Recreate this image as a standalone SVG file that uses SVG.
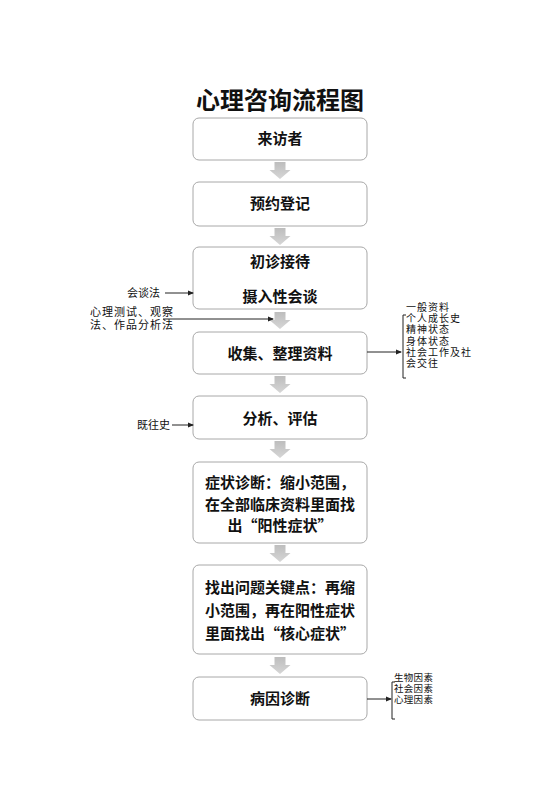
<svg xmlns="http://www.w3.org/2000/svg" width="560" height="792" viewBox="0 0 560 792">
<style>
.box{fill:#fff;stroke:#a8a8a8;stroke-width:1}
.bt{font-family:"Noto Sans CJK SC","Noto Sans",sans-serif;font-size:15px;font-weight:bold;fill:#111;text-anchor:middle}
.st{font-family:"Noto Sans CJK SC","Noto Sans",sans-serif;font-size:11px;fill:#111}
.lt{font-family:"Liberation Sans","Noto Sans CJK SC",sans-serif;fill:#111}
.ln{stroke:#222;stroke-width:1;fill:none}
.garrow{fill:url(#gg)}
</style>
<defs>
<linearGradient id="gg" x1="0" y1="0" x2="0" y2="1">
<stop offset="0" stop-color="#bdbdbd"/>
<stop offset="1" stop-color="#d6d6d6"/>
</linearGradient>
<marker id="ah" markerWidth="6" markerHeight="6" refX="5" refY="3" orient="auto" markerUnits="userSpaceOnUse">
<path d="M0,0.5 L6,3 L0,5.5 Z" fill="#222"/>
</marker>
<path id="ga" d="M-5.5,0 H5.5 V8 H10.5 L0,17 L-10.5,8 H-5.5 Z"/>
</defs>
<rect width="560" height="792" fill="#fff"/>
<text x="280" y="109" style="font-family:'Noto Sans CJK SC','Noto Sans',sans-serif;font-size:24px;font-weight:bold;fill:#111;text-anchor:middle">心理咨询流程图</text>

<g id="n1"><rect class="box" x="193" y="118" width="174" height="42" rx="6"/><text class="bt" x="280" y="144">来访者</text></g>
<g id="n2"><rect class="box" x="193" y="182" width="174" height="44" rx="6"/><text class="bt" x="280" y="209">预约登记</text></g>
<g id="n3"><rect class="box" x="193" y="247" width="174" height="62" rx="6"/><text class="bt" x="280" y="267">初诊接待</text><text class="bt" x="280" y="302">摄入性会谈</text></g>
<g id="n4"><rect class="box" x="193" y="332" width="174" height="42" rx="6"/><text class="bt" x="280" y="359">收集、整理资料</text></g>
<g id="n5"><rect class="box" x="193" y="396" width="174" height="43" rx="6"/><text class="bt" x="280" y="424">分析、评估</text></g>
<g id="n6"><rect class="box" x="193" y="462" width="174" height="81" rx="6"/><text class="bt" x="280" y="488"><tspan x="280" y="488">症状诊断：缩小范围，</tspan><tspan x="280" y="509.5">在全部临床资料里面找</tspan><tspan x="280" y="531">出“阳性症状”</tspan></text></g>
<g id="n7"><rect class="box" x="193" y="565" width="174" height="89" rx="6"/><text class="bt" x="280" y="593"><tspan x="280" y="593">找出问题关键点：再缩</tspan><tspan x="280" y="616">小范围，再在阳性症状</tspan><tspan x="280" y="639">里面找出“核心症状”</tspan></text></g>
<g id="n8"><rect class="box" x="193" y="677" width="174" height="43" rx="6"/><text class="bt" x="280" y="704">病因诊断</text></g>

<g id="l1"><text class="st" x="127" y="297">会谈法</text></g>
<g id="l2"><text class="lt" x="90" y="316" style="font-size:11px;letter-spacing:1px"><tspan x="90" y="316">心理测试、观察</tspan><tspan x="90" y="328.5">法、作品分析法</tspan></text></g>
<g id="l3"><text class="st" x="137" y="429">既往史</text></g>
<g id="l4"><text class="lt" x="406" y="311" style="font-size:10px;letter-spacing:1px"><tspan x="406" y="311">一般资料</tspan><tspan x="406" y="322.2">个人成长史</tspan><tspan x="406" y="333.4">精神状态</tspan><tspan x="406" y="344.6">身体状态</tspan><tspan x="406" y="355.8">社会工作及社</tspan><tspan x="406" y="367">会交往</tspan></text></g>
<g id="l5"><text class="lt" x="394" y="681" style="font-size:9.5px;letter-spacing:0.3px"><tspan x="394" y="681">生物因素</tspan><tspan x="394" y="692">社会因素</tspan><tspan x="394" y="703">心理因素</tspan></text></g>

<g id="connectors">
<use href="#ga" class="garrow" x="280" y="162"/>
<use href="#ga" class="garrow" x="280" y="228"/>
<use href="#ga" class="garrow" x="280" y="312"/>
<use href="#ga" class="garrow" x="280" y="376"/>
<use href="#ga" class="garrow" x="280" y="441"/>
<use href="#ga" class="garrow" x="280" y="545"/>
<use href="#ga" class="garrow" x="280" y="657"/>
<line class="ln" x1="165" y1="293" x2="193" y2="293" marker-end="url(#ah)"/>
<line class="ln" x1="163" y1="319" x2="273" y2="319" marker-end="url(#ah)"/>
<line class="ln" x1="172" y1="425" x2="193" y2="425" marker-end="url(#ah)"/>
<line class="ln" x1="367" y1="352" x2="401" y2="352" marker-end="url(#ah)"/>
<path class="ln" d="M406,315 H403 V378 H406" stroke="#555"/>
<line class="ln" x1="367" y1="699" x2="391" y2="699" marker-end="url(#ah)"/>
<path class="ln" d="M395,682 H392 V719 H395" stroke="#555"/>
</g>
</svg>
